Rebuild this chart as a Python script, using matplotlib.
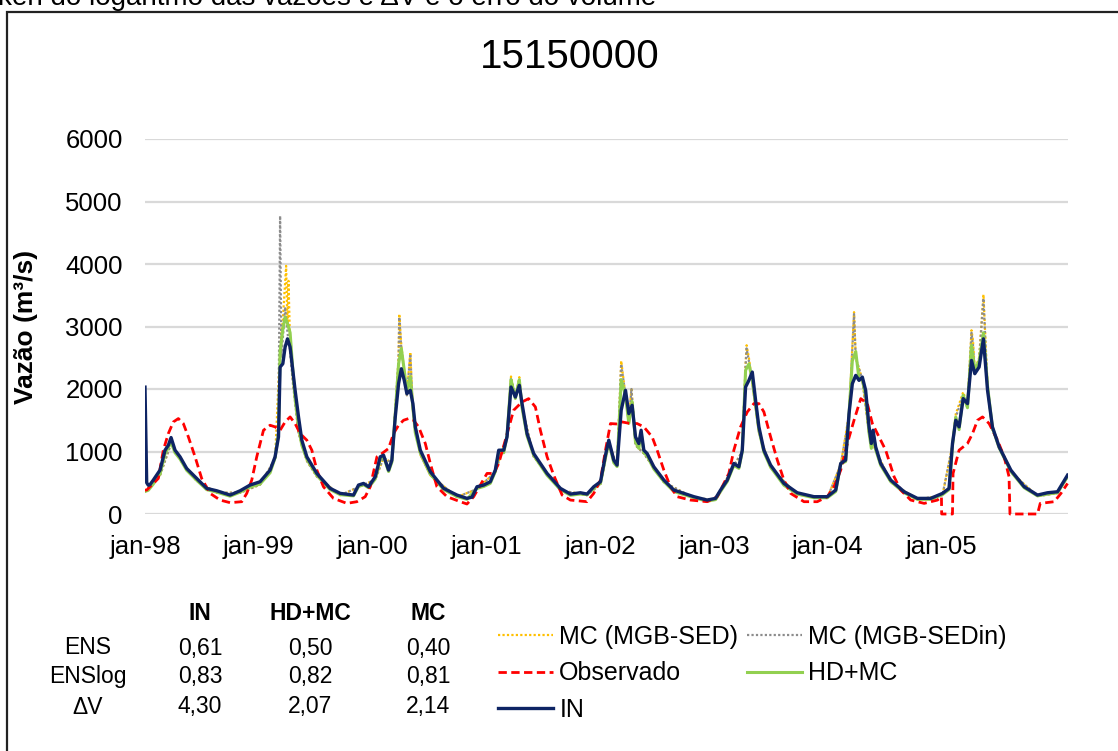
import numpy as np
import matplotlib; matplotlib.use("Agg"); import matplotlib.pyplot as plt
from matplotlib.patches import Rectangle

plt.rcParams["font.family"] = ["Liberation Sans", "DejaVu Sans"]

# time in years since jan-98, flow in m3/s
t_in = [0.000, 0.015, 0.029, 0.044, 0.073, 0.132, 0.176, 0.205, 0.229, 0.264, 0.308, 0.366, 0.454, 0.542,
        0.630, 0.748, 0.836, 0.923, 1.011, 1.099, 1.143, 1.173, 1.187, 1.211, 1.231, 1.252, 1.275, 1.299,
        1.319, 1.349, 1.378, 1.422, 1.510, 1.627, 1.715, 1.832, 1.876, 1.920, 1.964, 2.023, 2.067, 2.096,
        2.111, 2.140, 2.169, 2.199, 2.228, 2.252, 2.278, 2.301, 2.331, 2.354, 2.375, 2.419, 2.507, 2.624,
        2.741, 2.829, 2.873, 2.917, 2.976, 3.034, 3.078, 3.108, 3.152, 3.181, 3.216, 3.254, 3.289, 3.313,
        3.357, 3.415, 3.533, 3.650, 3.738, 3.826, 3.884, 3.943, 4.002, 4.046, 4.075, 4.119, 4.148, 4.184,
        4.222, 4.251, 4.280, 4.310, 4.339, 4.359, 4.383, 4.412, 4.471, 4.559, 4.647, 4.735, 4.823, 4.940,
        5.013, 5.057, 5.116, 5.174, 5.218, 5.248, 5.277, 5.306, 5.336, 5.365, 5.394, 5.438, 5.497, 5.614,
        5.731, 5.878, 5.995, 6.069, 6.113, 6.156, 6.186, 6.215, 6.245, 6.274, 6.303, 6.332, 6.362, 6.382,
        6.397, 6.420, 6.464, 6.552, 6.670, 6.787, 6.904, 7.007, 7.065, 7.095, 7.124, 7.153, 7.189, 7.227,
        7.262, 7.291, 7.329, 7.367, 7.403, 7.446, 7.505, 7.608, 7.725, 7.842, 7.930, 8.018, 8.062, 8.106]
q_in = [2030, 500, 460, 470, 543, 702, 1021, 1100, 1223, 1021, 915, 729, 569, 410,
        372, 303, 372, 463, 516, 702, 915, 1234, 2351, 2404, 2670, 2803, 2670, 2300,
        1979, 1553, 1181, 915, 649, 410, 330, 303, 463, 489, 436, 596, 915, 941,
        860, 702, 862, 1553, 2085, 2324, 2138, 1926, 1979, 1766, 1394, 1021, 676, 410,
        303, 250, 270, 436, 463, 516, 702, 1021, 1021, 1234, 2032, 1872, 2059, 1766,
        1287, 968, 649, 410, 319, 340, 319, 436, 516, 941, 1181, 862, 782, 1660,
        1979, 1606, 1739, 1234, 1128, 1340, 1021, 968, 755, 543, 383, 330, 277, 223,
        250, 383, 543, 809, 755, 1021, 2032, 2138, 2271, 1819, 1394, 1021, 782, 489,
        340, 277, 277, 383, 809, 862, 1606, 2085, 2218, 2138, 2191, 1979, 1394, 1128,
        1340, 1074, 809, 543, 356, 250, 250, 330, 410, 1128, 1500, 1394, 1846, 1766,
        2457, 2245, 2351, 2803, 1979, 1394, 1074, 702, 436, 303, 340, 356, 489, 622]

t_hd = [0.000, 0.029, 0.073, 0.132, 0.176, 0.229, 0.264, 0.308, 0.366, 0.454, 0.542, 0.630, 0.748, 0.836,
        0.923, 1.011, 1.099, 1.143, 1.173, 1.187, 1.211, 1.231, 1.252, 1.275, 1.299, 1.319, 1.349, 1.378,
        1.422, 1.510, 1.627, 1.715, 1.832, 1.876, 1.920, 1.964, 2.023, 2.067, 2.096, 2.140, 2.169, 2.199,
        2.228, 2.252, 2.278, 2.301, 2.331, 2.354, 2.375, 2.419, 2.507, 2.624, 2.741, 2.829, 2.917, 2.976,
        3.034, 3.078, 3.108, 3.152, 3.181, 3.216, 3.254, 3.289, 3.313, 3.357, 3.415, 3.533, 3.650, 3.738,
        3.826, 3.884, 3.943, 4.002, 4.046, 4.075, 4.119, 4.148, 4.184, 4.222, 4.251, 4.280, 4.310, 4.339,
        4.359, 4.383, 4.412, 4.471, 4.559, 4.647, 4.735, 4.823, 4.940, 5.013, 5.057, 5.116, 5.174, 5.218,
        5.248, 5.277, 5.306, 5.336, 5.365, 5.394, 5.438, 5.497, 5.614, 5.731, 5.878, 5.995, 6.069, 6.113,
        6.156, 6.186, 6.215, 6.245, 6.274, 6.303, 6.332, 6.362, 6.382, 6.397, 6.420, 6.464, 6.552, 6.670,
        6.787, 6.904, 7.007, 7.065, 7.095, 7.124, 7.153, 7.189, 7.227, 7.262, 7.291, 7.329, 7.367, 7.403,
        7.446, 7.505, 7.608, 7.725, 7.842, 7.930, 8.018, 8.062, 8.106]
q_hd = [360, 380, 480, 640, 960, 1150, 980, 880, 700, 540, 390, 350, 285, 350,
        430, 480, 660, 900, 1300, 2600, 2950, 3150, 3050, 2900, 2300, 1850, 1400, 1100,
        880, 620, 390, 310, 290, 440, 470, 420, 560, 880, 920, 680, 830, 1600,
        2400, 2650, 2300, 1950, 2200, 1700, 1300, 980, 640, 390, 280, 235, 410, 440,
        490, 680, 990, 980, 1250, 2150, 1850, 2150, 1700, 1250, 940, 620, 390, 300,
        320, 310, 410, 490, 900, 1150, 820, 760, 2150, 1900, 1450, 1800, 1150, 1050,
        1300, 980, 930, 720, 520, 360, 310, 260, 205, 230, 360, 520, 780, 730,
        1000, 2300, 2400, 2150, 1750, 1350, 990, 750, 460, 320, 260, 260, 360, 800,
        840, 1600, 2450, 2600, 2150, 2150, 1900, 1300, 1050, 1300, 1030, 780, 520, 340,
        235, 235, 310, 390, 1100, 1550, 1350, 1900, 1700, 2700, 2300, 2450, 2900, 2050,
        1380, 1060, 680, 420, 290, 320, 340, 470, 600]

t_sed = [0.000, 0.132, 0.229, 0.308, 0.454, 0.630, 0.836, 1.011, 1.143, 1.187, 1.211, 1.240, 1.252, 1.261,
         1.275, 1.299, 1.349, 1.422, 1.510, 1.715, 1.876, 2.023, 2.096, 2.169, 2.228, 2.234, 2.252, 2.301,
         2.331, 2.354, 2.419, 2.507, 2.741, 2.917, 3.078, 3.181, 3.216, 3.254, 3.289, 3.313, 3.415, 3.650,
         3.884, 4.002, 4.075, 4.148, 4.184, 4.222, 4.251, 4.274, 4.310, 4.383, 4.559, 4.823, 5.013, 5.174,
         5.248, 5.277, 5.286, 5.306, 5.336, 5.394, 5.497, 5.731, 5.995, 6.113, 6.186, 6.230, 6.245, 6.303,
         6.362, 6.420, 6.552, 6.787, 7.007, 7.095, 7.124, 7.189, 7.227, 7.262, 7.275, 7.291, 7.329, 7.367,
         7.403, 7.446, 7.608, 7.842, 8.018, 8.106]
q_sed = [360, 620, 1130, 870, 530, 340, 340, 470, 880, 2700, 3100, 3970, 3000, 3730,
         2700, 2150, 1300, 850, 600, 300, 430, 550, 900, 820, 2500, 3200, 2700, 1900,
         2590, 1650, 950, 620, 270, 400, 670, 1250, 2200, 1850, 2190, 1700, 920, 380,
         300, 480, 1150, 750, 2450, 1900, 1450, 2020, 1100, 970, 510, 255, 225, 770,
         1000, 2400, 2700, 2500, 2100, 1300, 740, 310, 255, 790, 1600, 3230, 2500, 2150,
         1280, 1020, 510, 230, 300, 1100, 1600, 1950, 1750, 2940, 2780, 2300, 2500, 3510,
         2050, 1350, 670, 285, 335, 590]

t_sedin = [0.000, 0.132, 0.229, 0.308, 0.454, 0.630, 0.836, 1.011, 1.143, 1.173, 1.187, 1.199, 1.231, 1.252,
           1.275, 1.299, 1.349, 1.422, 1.510, 1.715, 1.876, 2.023, 2.096, 2.169, 2.228, 2.234, 2.252, 2.301,
           2.331, 2.354, 2.419, 2.507, 2.741, 2.917, 3.078, 3.181, 3.216, 3.254, 3.289, 3.313, 3.415, 3.650,
           3.884, 4.002, 4.075, 4.148, 4.184, 4.222, 4.251, 4.274, 4.310, 4.383, 4.559, 4.823, 5.013, 5.174,
           5.248, 5.277, 5.286, 5.306, 5.336, 5.394, 5.497, 5.731, 5.995, 6.113, 6.186, 6.230, 6.245, 6.303,
           6.362, 6.420, 6.552, 6.787, 7.007, 7.095, 7.124, 7.189, 7.227, 7.262, 7.275, 7.291, 7.329, 7.367,
           7.403, 7.446, 7.608, 7.842, 8.018, 8.106]
q_sedin = [360, 620, 1130, 870, 530, 340, 340, 470, 880, 1500, 4770, 2500, 3310, 2900,
           2600, 2100, 1300, 850, 600, 300, 430, 550, 900, 820, 2450, 3150, 2650, 1900,
           2560, 1650, 950, 620, 270, 400, 670, 1250, 2180, 1850, 2150, 1700, 920, 380,
           300, 480, 1150, 750, 2400, 1900, 1450, 2000, 1100, 970, 510, 255, 225, 770,
           1000, 2350, 2650, 2450, 2100, 1300, 740, 310, 255, 790, 1550, 3200, 2500, 2150,
           1280, 1020, 510, 230, 300, 1100, 1550, 1900, 1700, 2900, 2700, 2250, 2450, 3450,
           2000, 1350, 670, 285, 335, 590]

t_obs = [0.000, 0.015, 0.117, 0.161, 0.205, 0.249, 0.293, 0.337, 0.381, 0.440, 0.498, 0.572, 0.660, 0.748,
         0.850, 0.894, 0.938, 0.982, 1.041, 1.099, 1.143, 1.187, 1.231, 1.275, 1.319, 1.363, 1.422, 1.466,
         1.510, 1.568, 1.656, 1.774, 1.862, 1.935, 1.979, 2.038, 2.082, 2.140, 2.184, 2.228, 2.272, 2.316,
         2.360, 2.404, 2.463, 2.507, 2.565, 2.653, 2.770, 2.829, 2.888, 2.946, 3.005, 3.064, 3.108, 3.166,
         3.239, 3.313, 3.371, 3.430, 3.474, 3.533, 3.591, 3.665, 3.738, 3.884, 3.943, 4.002, 4.046, 4.090,
         4.148, 4.192, 4.266, 4.324, 4.383, 4.456, 4.500, 4.559, 4.617, 4.676, 4.793, 4.940, 5.028, 5.086,
         5.130, 5.174, 5.233, 5.292, 5.350, 5.394, 5.438, 5.497, 5.556, 5.614, 5.673, 5.790, 5.907, 5.995,
         6.054, 6.113, 6.171, 6.230, 6.289, 6.347, 6.391, 6.450, 6.508, 6.582, 6.640, 6.728, 6.846, 6.963,
         6.998, 7.000, 7.095, 7.100, 7.153, 7.227, 7.271, 7.315, 7.359, 7.417, 7.491, 7.549, 7.592, 7.600,
         7.842, 7.866, 7.989, 8.048, 8.106]
q_obs = [383, 383, 569, 1021, 1287, 1473, 1527, 1447, 1234, 915, 569, 330, 223, 181,
         197, 330, 543, 915, 1340, 1420, 1394, 1340, 1473, 1553, 1447, 1287, 1181, 1021,
         702, 436, 250, 170, 197, 277, 436, 915, 968, 1048, 1287, 1420, 1500, 1527,
         1500, 1394, 1128, 809, 436, 277, 197, 160, 277, 463, 649, 649, 809, 1181,
         1660, 1793, 1846, 1713, 1340, 915, 622, 303, 223, 197, 330, 543, 1021, 1447,
         1440, 1473, 1447, 1447, 1394, 1234, 1021, 702, 436, 277, 223, 197, 277, 489,
         649, 1021, 1394, 1633, 1766, 1766, 1633, 1234, 862, 543, 330, 197, 197, 277,
         436, 702, 1128, 1500, 1846, 1766, 1447, 1234, 1021, 596, 383, 223, 170, 223,
         277, 0, 0, 649, 1021, 1128, 1287, 1500, 1553, 1447, 1181, 915, 596, 0,
         0, 170, 197, 330, 489]

years = [0, 1, 2, 3, 4, 5, 6, 7]
year_labels = ["jan-98", "jan-99", "jan-00", "jan-01", "jan-02", "jan-03", "jan-04", "jan-05"]
yticks = [0, 1000, 2000, 3000, 4000, 5000, 6000]

stats_cols = ["IN", "HD+MC", "MC"]
stats_rows = ["ENS", "ENSlog", "ΔV"]
stats_vals = [["0,61", "0,50", "0,40"],
              ["0,83", "0,82", "0,81"],
              ["4,30", "2,07", "2,14"]]

W, H = 1118, 751
fig = plt.figure(figsize=(W / 100, H / 100), dpi=100)
ax = fig.add_axes([145 / W, 1 - 514 / H, (1068 - 145) / W, (514 - 139) / H])

h_sed, = ax.plot(t_sed, q_sed, color="#ffc000", lw=1.6, ls=(0, (1, 1)), label="MC (MGB-SED)")
h_sedin, = ax.plot(t_sedin, q_sedin, color="#8c8c8c", lw=1.6, ls=(0, (1, 1)), label="MC (MGB-SEDin)")
h_hd, = ax.plot(t_hd, q_hd, color="#92d050", lw=2.2, label="HD+MC")
h_obs, = ax.plot(t_obs, q_obs, color="#ff0000", lw=2.0, ls=(0, (3, 1.6)), label="Observado", clip_on=False)
h_in, = ax.plot(t_in, q_in, color="#0e2464", lw=2.4, label="IN")

ax.set_xlim(0, 8.11)
ax.set_ylim(0, 6000)
ax.set_yticks(yticks)
ax.set_yticklabels([str(v) for v in yticks], fontsize=18.5)
ax.set_xticks(years)
ax.set_xticklabels(year_labels, fontsize=18.5)
ax.tick_params(length=0)
ax.tick_params(axis="y", pad=16)
ax.tick_params(axis="x", pad=15)
ax.grid(axis="y", color="#d9d9d9", lw=1.6)
ax.set_axisbelow(True)
for s in ax.spines.values():
    s.set_visible(False)
ax.set_ylabel("Vazão (m³/s)", fontsize=19, fontweight="bold")
ax.yaxis.set_label_coords((38 - 145) / (1068 - 145), 0.5)

fig.text(570 / W, 1 - 57 / H, "15150000", fontsize=29, ha="center", va="center")
fig.text(-2 / W, 1 - 5 / H, "ken do logaritmo das vazões e ΔV e o erro do volume",
         fontsize=20, ha="left", va="baseline")

# frame around the figure (cut off on right and bottom)
fig.add_artist(Rectangle((7 / W, -0.1), 1.2, 1.1 - 12 / H, transform=fig.transFigure,
                         fill=False, lw=1.6, ec="#222222"))

# statistics table
col_x = [200, 310, 428]
row_y = [648, 677, 707]
for cx, c in zip(col_x, stats_cols):
    fig.text(cx / W, 1 - 614 / H, c, fontsize=16.5, fontweight="bold", ha="center", va="center")
for ry, r, vals in zip(row_y, stats_rows, stats_vals):
    fig.text(88 / W, 1 - ry / H, r, fontsize=16.5, ha="center", va="center")
    for cx, v in zip(col_x, vals):
        fig.text(cx / W, 1 - ry / H, v, fontsize=16.5, ha="center", va="center")

fig.legend(handles=[h_sed, h_obs, h_in, h_sedin, h_hd], ncol=2, loc="upper left",
           bbox_to_anchor=(488 / W, 1 - 615 / H), frameon=False, fontsize=18,
           handlelength=2.2, handletextpad=0.25, columnspacing=0.35, labelspacing=0.5,
           borderaxespad=0)

fig.savefig("out.png", dpi=100)
